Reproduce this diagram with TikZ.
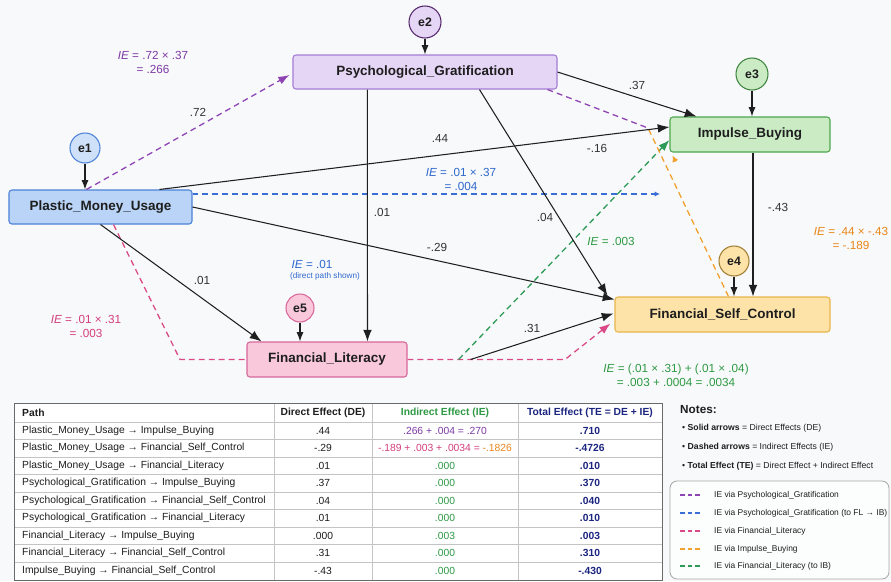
\documentclass[tikz,border=0pt]{standalone}
\usepackage{fontspec}
\setmainfont{Liberation Sans}
\usetikzlibrary{arrows.meta,calc}
\definecolor{bg}{HTML}{F8F9FA}
\definecolor{txt}{HTML}{1E1E1E}
\definecolor{txtb}{HTML}{333333}
\definecolor{pgF}{HTML}{E6D6F6}
\definecolor{pgD}{HTML}{A47DD4}
\definecolor{pmF}{HTML}{B9D4F6}
\definecolor{pmD}{HTML}{4C82D8}
\definecolor{ibF}{HTML}{CAEBC4}
\definecolor{ibD}{HTML}{4FA64F}
\definecolor{fsF}{HTML}{FDE3A8}
\definecolor{fsD}{HTML}{E8B44C}
\definecolor{flF}{HTML}{F9C8DA}
\definecolor{flD}{HTML}{D8679A}
\definecolor{purp}{HTML}{8E44B4}
\definecolor{blu}{HTML}{3B6FD6}
\definecolor{pnk}{HTML}{D94A86}
\definecolor{org}{HTML}{F2A12E}
\definecolor{grn}{HTML}{2E9A57}
\definecolor{purpT}{HTML}{7E3AA6}
\definecolor{bluT}{HTML}{2F68CF}
\definecolor{pnkT}{HTML}{D43F7E}
\definecolor{orgT}{HTML}{E9861A}
\definecolor{grnT}{HTML}{2E9A44}
\definecolor{navy}{HTML}{1C2580}
\definecolor{gridc}{HTML}{C4C4C4}
\definecolor{outc}{HTML}{6A6A6A}
\tikzset{
  box/.style={draw, rounded corners=2.5pt, line width=0.9pt, inner sep=0pt,
    font=\fontsize{11.5}{13}\selectfont\bfseries, text=txt},
  errc/.style={circle, draw, line width=0.9pt, inner sep=0pt,
    font=\fontsize{10.5}{12}\selectfont\bfseries, text=txt},
  dir/.style={line width=0.9pt, draw=black!88, -{Latex[length=10pt,width=7.5pt]}},
  errarr/.style={line width=0.9pt, draw=black!88, -{Latex[length=8pt,width=6pt]}},
  ie/.style={line width=1.1pt, dash pattern=on 5pt off 3.5pt},
  iehead/.style={-{Latex[length=9.5pt,width=7pt]}},
  elab/.style={font=\fontsize{10}{12}\selectfont, text=txtb, inner sep=0pt},
  ielab/.style={font=\fontsize{10}{12}\selectfont, inner sep=0pt, align=center},
  tcell/.style={font=\fontsize{8.8}{10}\selectfont, text=txt, inner sep=0pt},
  thead/.style={font=\fontsize{8.8}{10}\selectfont\bfseries, text=txt, inner sep=0pt},
  notet/.style={font=\fontsize{7.4}{9}\selectfont, text=txt, inner sep=0pt, anchor=west},
  legt/.style={font=\fontsize{7.2}{9}\selectfont, text=txt, inner sep=0pt, anchor=west},
  legl/.style={line width=1.3pt, dash pattern=on 4pt off 2.6pt},
}
\begin{document}
\begin{tikzpicture}[x=0.03cm,y=-0.03cm]
\useasboundingbox (0,0) rectangle (891,581);
\fill[bg] (0,0) rectangle (891,581);

% ---------- main nodes ----------
\node[box, fill=pgF, draw=pgD, minimum width=7.92cm, minimum height=1.02cm] (PG) at (425,72) {Psychological\_Gratification};
\node[box, fill=pmF, draw=pmD, minimum width=5.49cm, minimum height=1.02cm] (PMU) at (100.5,207) {Plastic\_Money\_Usage};
\node[box, fill=ibF, draw=ibD, minimum width=4.8cm, minimum height=1.05cm] (IB) at (750,134.5) {Impulse\_Buying};
\node[box, fill=fsF, draw=fsD, minimum width=6.45cm, minimum height=1.05cm] (FSC) at (722.5,314.5) {Financial\_Self\_Control};
\node[box, fill=flF, draw=flD, minimum width=4.8cm, minimum height=1.05cm] (FL) at (327,359.5) {Financial\_Literacy};

% ---------- error terms ----------
\node[errc, fill=pmF!70!white, draw=pmD, minimum size=0.9cm] (e1) at (85,148) {e1};
\node[errc, fill=pgF, draw=purp!60!black, minimum size=0.96cm] (e2) at (425,22) {e2};
\node[errc, fill=ibF, draw=ibD!80!black, minimum size=0.96cm] (e3) at (752,74) {e3};
\node[errc, fill=fsF, draw=fsD!70!black, minimum size=0.9cm] (e4) at (734,261) {e4};
\node[errc, fill=flF, draw=flD, minimum size=0.84cm] (e5) at (300,308) {e5};

\draw[errarr] (e1) -- (e1 |- PMU.north);
\draw[errarr] (e2) -- (PG.north);
\draw[errarr] (e3) -- (e3 |- IB.north);
\draw[errarr] (e4) -- (e4 |- FSC.north);
\draw[errarr] (e5) -- (e5 |- FL.north);

% ---------- indirect (dashed) paths ----------
\coordinate (mid) at (648,128);
\coordinate (bend) at (660,194);
\coordinate (pA) at (180,359.5);
\coordinate (pB) at (565,359.5);
\draw[ie, purp, iehead] ($(PMU.north west)+(78,0)$) -- ($(PG.west)+(-3,3)$);
\draw[ie, purp] ($(PG.south east)+(-10,0)$) -- (mid);
\draw[ie, blu, -{Latex[length=4.5pt,width=4.5pt]}] ($(PMU.east)+(0,-13)$) -- (bend);
\draw[ie, pnk] ($(PMU.south)+(13,0)$) -- (pA) -- (FL.west);
\draw[ie, pnk, iehead] (FL.east) -- (pB) -- ($(FSC.south west)+(-4,-9)$);
\draw[ie, grn, iehead] ($(FL.east)+(51,0)$) -- ($(IB.west)+(0,5.5)$);
\draw[ie, org] ($(FSC.north west)+(114,0)$) -- (mid);
\draw[org, line width=1pt, -{Latex[length=5.5pt,width=5.5pt]}] ($(IB.south west)+(6,9)$) -- ($(IB.south west)+(3,3)$);

% ---------- direct (solid) paths ----------
\draw[dir] (PG.east) -- ($(IB.north west)+(27,0)$);
\draw[dir] ($(PMU.north west)+(151,0)$) -- ($(IB.west)+(0,-7.5)$);
\draw[dir] ($(PG.south west)+(75,0)$) -- ($(FL.north west)+(121,0)$);
\draw[dir] ($(PG.south west)+(187,0)$) -- ($(FSC.north west)+(-7,-1)$);
\draw[dir] (PMU.east) -- ($(FSC.west)+(0,-15)$);
\draw[dir] (PMU.south) -- ($(FL.north west)+(15,0)$);
\draw[dir] ($(FL.east)+(63,0)$) -- ($(FSC.west)+(-1,-1)$);
\coordinate (ibs) at ($(IB.south)+(3,0)$);
\draw[dir] (ibs) -- (ibs |- FSC.north);

% ---------- coefficient labels ----------
\node[elab] (l72) at (198,112) {.72};
\node[elab] (l37) at (637,85) {.37};
\node[elab] (l44) at (440,138) {.44};
\node[elab] (l16) at (597,148) {-.16};
\node[elab] (l01a) at (382,212) {.01};
\node[elab] (l04) at (545,217) {.04};
\node[elab] (l29) at (437,247) {-.29};
\node[elab] (l01b) at (202,280) {.01};
\node[elab] (l31) at (532,328) {.31};
\node[elab] (l43) at (778,207) {-.43};

% ---------- IE labels ----------
\node[ielab, text=purpT] (iePG) at (153,62) {\textit{IE} = .72 × .37\\= .266};
\node[ielab, text=bluT] (ieB) at (461,179) {\textit{IE} = .01 × .37\\= .004};
\node[ielab, text=bluT] (ieD) at (312,264) {\textit{IE} = .01};
\node[ielab, text=bluT, font=\fontsize{7}{8}\selectfont] (ieDs) at (325,276) {(direct path shown)};
\node[ielab, text=pnkT] (ieFL) at (86,326) {\textit{IE} = .01 × .31\\= .003};
\node[ielab, text=orgT] (ieIB) at (851,238) {\textit{IE} = .44 × -.43\\= -.189};
\node[ielab, text=grnT] (ieG) at (611,241) {\textit{IE} = .003};
\node[ielab, text=grnT] (ieG2) at (676,375.5) {\textit{IE} = (.01 × .31) + (.01 × .04)\\= .003 + .0004 = .0034};

% ---------- table ----------
\fill[white] (14,403) rectangle (662,580);
\draw[gridc, line width=0.6pt] (14,422) -- (662,422);
\foreach \i in {1,...,8} \draw[gridc, line width=0.6pt] (14,{422+17.5*\i}) -- (662,{422+17.5*\i});
\foreach \x in {274,372,518} \draw[gridc, line width=0.6pt] (\x,403) -- (\x,580);
\draw[outc, line width=0.8pt] (14,403) rectangle (662,580);

\node[thead, anchor=west] (hP) at (22,413) {Path};
\node[thead] (hD) at (323,413) {Direct Effect (DE)};
\node[thead, text=grnT] (hI) at (445,413) {Indirect Effect (IE)};
\node[thead, text=navy] (hT) at (590,413) {Total Effect (TE = DE + IE)};

\foreach \r/\p/\d/\v/\t in {
 1/Plastic\_Money\_Usage → Impulse\_Buying/.44/{{\color{purpT}.266 + .004 = .270}}/.710,
 2/Plastic\_Money\_Usage → Financial\_Self\_Control/-.29/{{\color{pnkT}-.189 + .003 + .0034 =} {\color{orgT}-.1826}}/-.4726,
 3/Plastic\_Money\_Usage → Financial\_Literacy/.01/.000/.010,
 4/Psychological\_Gratification → Impulse\_Buying/.37/.000/.370,
 5/Psychological\_Gratification → Financial\_Self\_Control/.04/.000/.040,
 6/Psychological\_Gratification → Financial\_Literacy/.01/.000/.010,
 7/Financial\_Literacy → Impulse\_Buying/.000/.003/.003,
 8/Financial\_Literacy → Financial\_Self\_Control/.31/.000/.310,
 9/Impulse\_Buying → Financial\_Self\_Control/-.43/.000/-.430}{
  \node[tcell, anchor=west] (p\r) at (22,{422+17.5*(\r-0.5)}) {\p};
  \node[tcell] (d\r) at (323,{422+17.5*(\r-0.5)}) {\d};
  \node[tcell, text=grnT] (v\r) at (445,{422+17.5*(\r-0.5)}) {\v};
  \node[tcell, font=\fontsize{8.8}{10}\selectfont\bfseries, text=navy] (t\r) at (590,{422+17.5*(\r-0.5)}) {\t};
}

% ---------- notes ----------
\node[anchor=west, inner sep=0pt, font=\fontsize{10}{12}\selectfont\bfseries, text=txt] (notes) at (680,410) {Notes:};
\node[notet] (n1) at (682,428) {•\ \textbf{Solid arrows} = Direct Effects (DE)};
\node[notet] (n2) at (682,447) {•\ \textbf{Dashed arrows} = Indirect Effects (IE)};
\node[notet] (n3) at (682,466) {•\ \textbf{Total Effect (TE)} = Direct Effect + Indirect Effect};

% ---------- legend ----------
\draw[gray!70, line width=0.7pt, rounded corners=6pt, fill=white!60!bg] (670,481) rectangle (889,579);
\draw[legl, purp] (680,495) -- (702,495);
\draw[legl, blu] (680,513) -- (702,513);
\draw[legl, pnk] (680,531) -- (702,531);
\draw[legl, org] (680,549) -- (702,549);
\draw[legl, grn] (680,566) -- (702,566);
\node[legt] (g1) at (714,495) {IE via Psychological\_Gratification};
\node[legt] (g2) at (714,513) {IE via Psychological\_Gratification (to FL → IB)};
\node[legt] (g3) at (714,531) {IE via Financial\_Literacy};
\node[legt] (g4) at (714,549) {IE via Impulse\_Buying};
\node[legt] (g5) at (714,566) {IE via Financial\_Literacy (to IB)};
\end{tikzpicture}
\end{document}
